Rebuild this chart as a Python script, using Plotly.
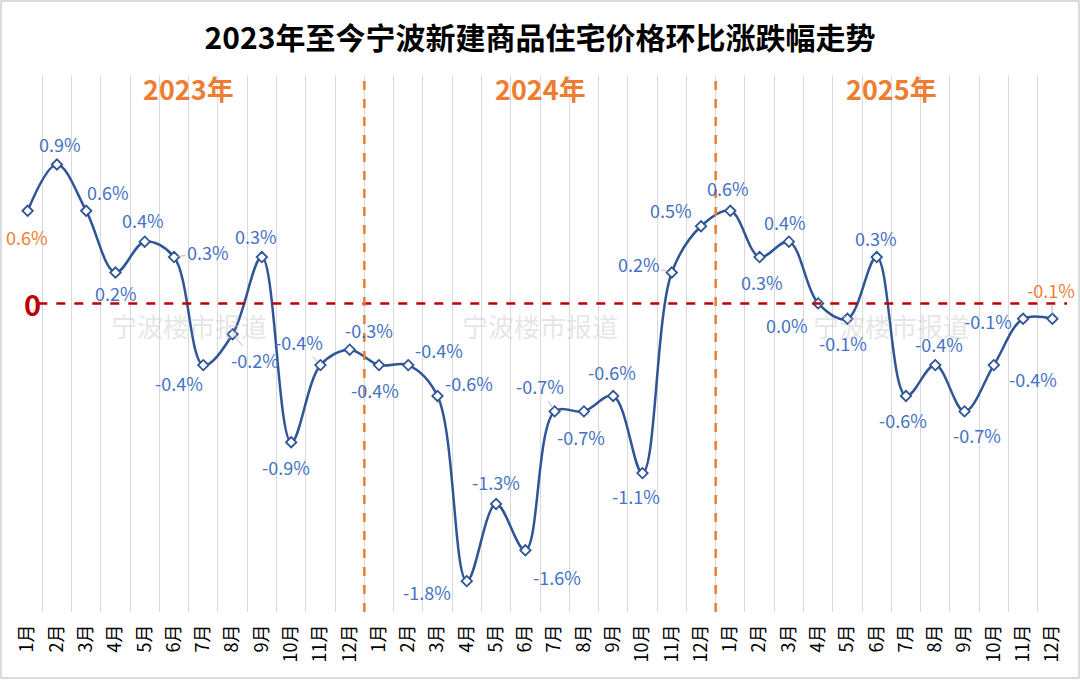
import plotly.graph_objects as go

months = ["1月", "2月", "3月", "4月", "5月", "6月", "7月", "8月", "9月", "10月", "11月", "12月"]
years = ["2023年", "2024年", "2025年"]
categories = months * 3
values = [0.6, 0.9, 0.6, 0.2, 0.4, 0.3, -0.4, -0.2, 0.3, -0.9, -0.4, -0.3,
          -0.4, -0.4, -0.6, -1.8, -1.3, -1.6, -0.7, -0.7, -0.6, -1.1, 0.2, 0.5,
          0.6, 0.3, 0.4, 0.0, -0.1, 0.3, -0.6, -0.4, -0.7, -0.4, -0.1, -0.1]
title = "2023年至今宁波新建商品住宅价格环比涨跌幅走势"
watermark = "宁波楼市报道"

# label placement (pixel offsets from point), leader-line flags
label_offsets = [(-1, 26), (3, -21), (22, -19), (1, 20), (-2, -22), (34, -5), (-24, 18), (22, 26),
                 (-6, -21), (-5, 25), (-21, -23), (19, -20), (-4, 25), (31, -15), (31, -13), (-40, 11),
                 (0, -22), (32, 27), (-15, -25), (-3, 26), (-1, -24), (-6, 23), (-33, -9), (-30, -16),
                 (-2, -23), (2, 25), (-4, -20), (-31, 22), (-4, 24), (-1, -19), (-3, 24), (4, -21),
                 (12, 24), (39, 14), (-35, 2), (-1, -29)]
leader = {5, 7, 10, 18, 22, 35}
orange_labels = {0, 35}

BLUE_LINE = "#2F5597"
BLUE_TXT = "#4472C4"
ORANGE = "#ED7D31"
RED = "#C00000"
FONT = "Noto Sans CJK SC"

n = len(values)
xs = list(range(n))

fig = go.Figure()
fig.add_trace(go.Scatter(
    x=xs, y=values, mode="lines+markers",
    line=dict(color=BLUE_LINE, width=2.5, shape="spline", smoothing=1.0),
    marker=dict(symbol="diamond", size=8, color="white", line=dict(color=BLUE_LINE, width=1.8)),
    hoverinfo="skip", showlegend=False,
))

annotations = []
for i, v in enumerate(values):
    dx, dy = label_offsets[i]
    col = ORANGE if i in orange_labels else BLUE_TXT
    annotations.append(dict(
        x=i, y=v, xref="x", yref="y", text=f"{v:.1f}%",
        showarrow=True, ax=dx, ay=dy, axref="pixel", ayref="pixel",
        arrowhead=0, arrowwidth=0.8,
        arrowcolor="#A6A6A6" if i in leader else "rgba(0,0,0,0)",
        standoff=4, font=dict(family=FONT, size=18, color=col),
    ))

# year labels and watermarks
for k, yr in enumerate(years):
    annotations.append(dict(
        x=5.5 + 12 * k, y=1.39, xref="x", yref="y", text=f"<b>{yr}</b>", showarrow=False,
        font=dict(family=FONT, size=27, color=ORANGE),
    ))
    annotations.append(dict(
        x=5.5 + 12 * k, y=-0.145, xref="x", yref="y", text=watermark, showarrow=False,
        font=dict(family=FONT, size=26, color="rgba(200,200,200,0.45)"),
    ))

annotations.append(dict(
    x=0.009, y=0, xref="paper", yref="y", text="<b>0</b>", showarrow=False,
    font=dict(family=FONT, size=29, color=RED),
))

shapes = [
    dict(type="line", xref="paper", yref="y", x0=0.024, x1=1.0, y0=0, y1=0,
         line=dict(color=RED, width=2.5, dash="dash")),
]
for b in (11.5, 23.5):
    shapes.append(dict(type="line", xref="x", yref="paper", x0=b, x1=b, y0=0, y1=1,
                       line=dict(color=ORANGE, width=2.5, dash="dash"), layer="above"))
# outer frame
shapes.append(dict(type="rect", xref="paper", yref="paper",
                   x0=-12 / 1054, x1=1 + 12 / 1054, y0=-66 / 537, y1=1 + 74 / 537,
                   line=dict(color="#D0D0D0", width=1.5), fillcolor="rgba(0,0,0,0)"))

fig.update_layout(
    width=1080, height=680,
    margin=dict(l=13, r=13, t=75, b=68),
    paper_bgcolor="white", plot_bgcolor="white",
    title=dict(text=f"<b>{title}</b>", x=0.5, xanchor="center", y=0.944, yanchor="middle",
               font=dict(family=FONT, size=30, color="black")),
    xaxis=dict(
        range=[-0.5, n - 0.5], tickvals=xs, ticktext=categories, tickangle=-90,
        showgrid=False, zeroline=False, showline=False, ticks="",
        tickfont=dict(family=FONT, size=18, color="black"),
        ticklabelstandoff=8,
        minor=dict(tickvals=[i - 0.5 for i in range(n + 1)], showgrid=True,
                   gridcolor="#D9D9D9", gridwidth=1),
    ),
    yaxis=dict(range=[-2.0, 1.48], showgrid=False, zeroline=False, showticklabels=False,
               showline=False, ticks=""),
    annotations=annotations, shapes=shapes,
)

fig.write_html("out.html", config={"displayModeBar": False},
               post_script="document.body.style.margin='0';document.body.style.overflow='hidden';")
